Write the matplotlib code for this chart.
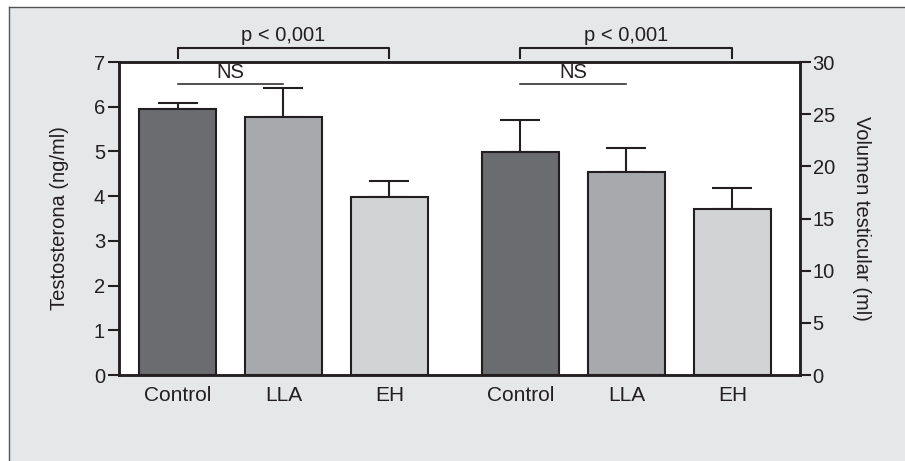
import numpy as np
import matplotlib; matplotlib.use("Agg")
import matplotlib.pyplot as plt
from matplotlib.lines import Line2D

plt.rcParams['font.family'] = ['Liberation Sans', 'DejaVu Sans']

groups = ["Control", "LLA", "EH"]
testo = [5.95, 5.76, 3.98]          # ng/ml
testo_err = [0.14, 0.66, 0.35]
vol = [21.35, 19.43, 15.95]         # ml
vol_err = [3.13, 2.36, 2.01]
colors = ["#6b6c70", "#a8a9ad", "#d2d3d5"]
bg = "#e6e7e9"

x1 = np.arange(3)
x2 = np.arange(3) + 3.236
w = 0.726

fig = plt.figure(figsize=(9.05, 4.61), dpi=100)
fig.patch.set_facecolor("white")
# grey panel with frame (top + left edge visible)
fig.patches.append(plt.Rectangle((9/905, 0), 1, 1 - 7/461, transform=fig.transFigure,
                                 facecolor=bg, edgecolor="none", zorder=-10))
fig.add_artist(Line2D([9/905, 1], [1 - 7/461, 1 - 7/461], color="#555555", lw=1))
fig.add_artist(Line2D([9/905, 9/905], [0, 1 - 7/461], color="#555555", lw=1))

ax = fig.add_axes([119/905, 1 - 375/461, (800 - 119)/905, (375 - 62)/461])
ax.set_facecolor("white")
ax2 = ax.twinx()

ekw = dict(fmt="none", ecolor="#231f20", elinewidth=1.5, capsize=14.5, capthick=1.5)
ax.bar(x1, testo, w, color=colors, edgecolor="#231f20", lw=1.5, zorder=3)
ax.errorbar(x1, testo, yerr=[[0]*3, testo_err], zorder=2, **ekw)
ax2.bar(x2, vol, w, color=colors, edgecolor="#231f20", lw=1.5, zorder=3)
ax2.errorbar(x2, vol, yerr=[[0]*3, vol_err], zorder=2, **ekw)

ax.set_xlim(-0.552, 5.873)
ax.set_ylim(0, 7); ax2.set_ylim(0, 30)
ax.set_yticks(range(0, 8)); ax2.set_yticks(range(0, 31, 5))
ax.set_xticks(list(x1) + list(x2)); ax.set_xticklabels(groups + groups)
ax.tick_params(axis="x", length=0, pad=8, labelsize=15, colors="#231f20")
ax.tick_params(axis="y", length=8, width=1.5, pad=2, labelsize=14.5, colors="#231f20")
ax2.tick_params(axis="y", length=8, width=1.5, pad=1, labelsize=14.5, colors="#231f20")
for a in (ax, ax2):
    for s in a.spines.values():
        s.set_linewidth(1.8); s.set_color("#231f20")
ax.set_ylabel("Testosterona (ng/ml)", fontsize=14.5, color="#231f20", labelpad=18)
ax2.set_ylabel("Volumen testicular (ml)", fontsize=14.5, color="#231f20", rotation=270, labelpad=26)

# significance marks (in left-axis data units)
for xs in (x1, x2):
    ax.plot([xs[0], xs[0], xs[2], xs[2]], [7.09, 7.32, 7.32, 7.09], color="#231f20",
            lw=1.5, clip_on=False, zorder=5)
    ax.text((xs[0] + xs[2]) / 2, 7.38, "p < 0,001", ha="center", va="bottom", fontsize=14.5,
            color="#231f20", clip_on=False)
    ax.plot([xs[0], xs[1]], [6.51, 6.51], color="#231f20", lw=1.1, clip_on=False, zorder=5)
    ax.text((xs[0] + xs[1]) / 2, 6.55, "NS", ha="center", va="bottom", fontsize=14.5,
            color="#231f20")

fig.savefig("out.png", dpi=100)
